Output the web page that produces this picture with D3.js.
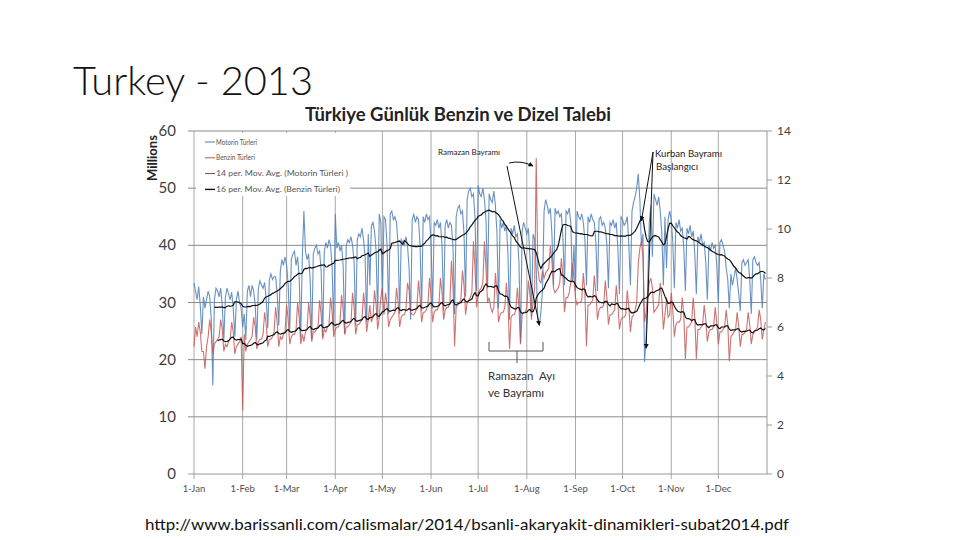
<!DOCTYPE html>
<html><head><meta charset="utf-8">
<script src="https://cdn.jsdelivr.net/npm/d3@7"></script>
<style>
body{margin:0;background:#fff;}
svg{display:block;font-family:Lato,"Open Sans","Liberation Sans",sans-serif;}
</style>
</head><body>
<svg id="c" width="960" height="540"></svg>
<script>
// ---- DATA (daily, 2013; rows = calendar weeks, first row starts Tue 1 Jan) ----
// Motorin Türleri (diesel), millions of litres, left axis
const motorinWeeks = [
  [33.4, 32.0, 30.5, 32.8, 29.5, 24.5],
  [31.0, 29.0, 30.5, 32.0, 31.0, 27.0, 15.5],
  [30.5, 32.5, 32.0, 31.0, 32.5, 29.5, 23.5],
  [31.0, 32.5, 31.5, 30.5, 31.8, 29.0, 24.0],
  [30.5, 32.0, 30.0, 29.0, 25.7, 28.0, 23.5],
  [32.0, 33.0, 31.0, 33.0, 32.0, 29.5, 23.5],
  [32.5, 33.8, 33.0, 32.5, 33.5, 30.5, 25.5],
  [34.0, 35.0, 34.0, 34.5, 34.5, 31.5, 26.0],
  [35.5, 37.5, 36.5, 38.0, 36.5, 33.0, 25.0],
  [37.5, 38.5, 39.0, 36.5, 38.0, 34.5, 24.0],
  [38.0, 46.0, 39.0, 37.5, 38.5, 34.0, 23.5],
  [38.5, 39.5, 40.0, 38.5, 39.0, 35.5, 24.0],
  [39.0, 40.5, 39.5, 41.0, 40.0, 36.0, 25.0],
  [45.5, 39.5, 40.5, 39.0, 40.0, 36.5, 24.5],
  [40.0, 41.0, 40.5, 41.5, 40.0, 37.0, 26.0],
  [41.0, 42.0, 41.5, 43.0, 41.0, 38.0, 26.5],
  [42.0, 33.0, 43.5, 44.0, 42.5, 39.0, 27.0],
  [45.5, 44.0, 30.5, 45.0, 44.5, 40.0, 28.0],
  [45.5, 46.0, 44.5, 45.0, 44.0, 40.0, 28.0],
  [41.0, 40.5, 40.0, 41.5, 40.0, 36.0, 27.0],
  [44.5, 45.5, 44.0, 45.0, 44.5, 40.0, 28.5],
  [45.0, 44.0, 45.5, 44.5, 45.0, 40.5, 29.0],
  [44.0, 43.5, 44.5, 43.0, 44.0, 40.0, 28.5],
  [43.5, 44.5, 43.0, 44.0, 43.5, 39.5, 28.0],
  [45.0, 46.5, 47.0, 45.5, 46.0, 42.0, 31.0],
  [48.0, 49.5, 50.0, 48.5, 49.0, 45.0, 32.0],
  [50.5, 49.0, 48.5, 50.0, 48.0, 44.5, 32.5],
  [49.0, 48.0, 47.5, 49.5, 47.0, 42.0, 29.0],
  [44.5, 43.0, 44.0, 42.5, 43.5, 38.5, 27.0],
  [43.0, 42.0, 43.5, 41.5, 42.0, 37.0, 23.0],
  [42.5, 44.0, 43.0, 42.0, 43.0, 38.0, 27.0],
  [42.0, 41.0, 36.0, 27.0, 26.0, 28.5, 32.0],
  [46.0, 48.0, 47.0, 45.5, 46.5, 42.0, 33.0],
  [46.5, 45.5, 46.0, 45.0, 45.5, 41.5, 33.0],
  [46.0, 45.5, 46.5, 44.0, 33.5, 40.0, 32.0],
  [46.0, 45.0, 44.5, 45.5, 44.0, 41.0, 33.0],
  [45.0, 44.0, 45.5, 44.5, 44.0, 40.5, 32.0],
  [44.5, 45.0, 43.5, 44.0, 43.0, 40.0, 32.5],
  [44.0, 43.5, 44.5, 43.0, 44.0, 39.5, 31.5],
  [45.0, 44.5, 43.5, 44.0, 45.0, 40.0, 33.0],
  [46.0, 47.5, 48.5, 50.0, 52.5, 48.0, 40.0],
  [42.0, 19.6, 24.0, 33.0, 44.0, 47.0, 38.0],
  [49.0, 48.0, 47.0, 48.5, 46.0, 42.0, 33.0],
  [45.0, 36.0, 44.5, 46.0, 44.5, 40.5, 32.5],
  [44.0, 43.0, 44.5, 42.5, 43.0, 39.5, 32.0],
  [43.0, 42.0, 43.5, 41.5, 42.5, 38.5, 31.5],
  [41.5, 40.5, 42.0, 40.0, 40.5, 37.0, 30.5],
  [40.0, 39.0, 40.5, 39.5, 40.0, 36.5, 30.0],
  [40.5, 41.0, 40.0, 39.0, 36.0, 34.0, 29.0],
  [35.0, 33.0, 34.5, 36.0, 34.0, 31.5, 28.5],
  [37.0, 37.5, 36.5, 37.0, 37.5, 34.0, 28.0],
  [37.5, 38.0, 37.0, 36.5, 37.0, 34.0, 29.0],
  [35.0, 34.0]
];
// Benzin Türleri (gasoline), millions of litres, right axis
const benzinWeeks = [
  [5.2, 6.0, 5.6, 6.2, 5.8, 5.0],
  [5.0, 4.3, 5.2, 5.6, 6.3, 5.8, 4.9],
  [5.3, 5.4, 5.5, 5.6, 6.3, 5.9, 5.0],
  [5.3, 5.2, 5.4, 5.5, 6.2, 5.8, 4.9],
  [5.2, 5.3, 5.4, 5.6, 2.6, 5.7, 5.0],
  [5.3, 5.4, 5.5, 5.6, 6.4, 6.0, 5.1],
  [5.4, 5.5, 5.5, 5.7, 6.6, 6.1, 5.2],
  [5.5, 5.5, 5.6, 5.8, 6.8, 6.2, 5.2],
  [5.6, 5.5, 5.7, 5.8, 6.9, 6.3, 5.3],
  [5.6, 5.7, 5.7, 5.9, 7.0, 6.4, 5.3],
  [5.7, 5.4, 5.8, 5.9, 7.0, 6.4, 5.4],
  [5.8, 5.8, 5.9, 6.0, 7.1, 6.5, 5.5],
  [5.9, 5.8, 6.0, 6.1, 7.2, 6.6, 5.6],
  [5.9, 6.0, 6.0, 6.2, 7.3, 6.7, 5.7],
  [6.0, 6.0, 6.1, 6.2, 7.4, 6.8, 5.7],
  [6.1, 6.1, 6.2, 6.3, 7.4, 6.8, 5.8],
  [6.3, 6.9, 6.2, 6.4, 7.5, 6.9, 5.9],
  [6.4, 7.2, 7.6, 6.5, 7.4, 6.9, 6.0],
  [6.3, 6.4, 6.5, 6.6, 7.6, 7.0, 6.0],
  [6.4, 6.5, 6.5, 6.7, 7.8, 7.5, 6.6],
  [6.5, 6.5, 6.6, 6.8, 7.9, 7.2, 6.2],
  [6.6, 6.6, 6.7, 6.9, 8.0, 7.3, 6.2],
  [6.6, 6.7, 6.7, 6.9, 8.0, 7.4, 6.3],
  [6.7, 6.8, 6.8, 7.0, 8.7, 7.6, 5.2],
  [6.8, 6.9, 7.0, 7.1, 8.3, 7.7, 6.5],
  [7.0, 7.1, 7.2, 7.4, 9.5, 8.4, 6.8],
  [7.4, 7.5, 7.6, 7.8, 9.5, 8.4, 7.0],
  [7.2, 6.8, 6.6, 6.8, 8.2, 7.4, 6.2],
  [6.5, 6.6, 6.6, 6.8, 7.8, 7.0, 5.1],
  [6.4, 6.5, 6.5, 6.7, 7.6, 6.8, 5.3],
  [6.5, 6.6, 6.6, 6.8, 7.9, 7.3, 6.4],
  [7.0, 7.6, 12.9, 8.4, 7.9, 7.8, 8.3],
  [8.0, 8.2, 8.3, 8.4, 9.3, 8.7, 7.6],
  [7.4, 7.5, 7.6, 7.8, 8.8, 8.1, 6.6],
  [7.2, 7.2, 7.4, 7.8, 8.6, 8.0, 7.2],
  [6.9, 7.0, 7.0, 7.1, 8.2, 7.4, 5.2],
  [6.9, 6.9, 7.0, 7.1, 8.1, 7.4, 6.3],
  [6.7, 6.8, 6.8, 6.9, 7.9, 7.2, 6.1],
  [6.5, 6.5, 6.6, 6.7, 7.7, 7.0, 5.9],
  [6.3, 6.4, 6.4, 6.5, 7.5, 6.8, 5.8],
  [6.4, 6.5, 6.7, 7.0, 8.6, 9.2, 9.5],
  [8.8, 6.2, 6.6, 7.2, 7.8, 8.0, 7.6],
  [6.6, 6.7, 6.8, 6.9, 7.8, 7.1, 5.9],
  [6.5, 7.2, 6.4, 6.5, 7.4, 6.7, 5.6],
  [6.1, 6.2, 6.2, 6.3, 7.2, 6.5, 4.7],
  [6.0, 6.0, 6.1, 6.2, 7.2, 6.4, 4.7],
  [5.9, 5.9, 6.0, 6.1, 6.9, 6.3, 5.4],
  [5.8, 5.9, 5.9, 6.0, 6.8, 6.2, 5.3],
  [5.8, 5.8, 5.9, 6.0, 6.7, 6.1, 4.6],
  [5.6, 5.7, 5.8, 5.9, 6.6, 6.0, 5.2],
  [5.7, 5.7, 5.8, 5.9, 6.6, 6.1, 5.3],
  [5.7, 5.8, 5.9, 6.0, 6.7, 6.3, 5.5],
  [5.9, 6.2]
];
const monthLabels = ["1-Jan","1-Feb","1-Mar","1-Apr","1-May","1-Jun","1-Jul","1-Aug","1-Sep","1-Oct","1-Nov","1-Dec"];
const leftTicks = [0, 10, 20, 30, 40, 50, 60];
const rightTicks = [0, 2, 4, 6, 8, 10, 12, 14];
const legendLabels = ["Motorin Türleri", "Benzin Türleri", "14 per. Mov. Avg. (Motorin Türleri )", "16 per. Mov. Avg. (Benzin Türleri)"];
const maPeriods = [14, 16];

// ---- BUILD ----
const motorin = motorinWeeks.flat();
const benzin = benzinWeeks.flat();
const start = new Date(Date.UTC(2013, 0, 1));
const end = new Date(Date.UTC(2014, 0, 1));
const dates = motorin.map((_, i) => d3.utcDay.offset(start, i));
const movingAvg = (vals, n) => vals.map((v, i) => i < n - 1 ? null : d3.mean(vals.slice(i - n + 1, i + 1)));
const motorinMA = movingAvg(motorin, maPeriods[0]);
const benzinMA = movingAvg(benzin, maPeriods[1]);

const svg = d3.select("#c");
const x = d3.scaleUtc().domain([start, end]).range([194, 767]);
const yL = d3.scaleLinear().domain([0, 60]).range([474, 131]);
const yR = d3.scaleLinear().domain([0, 14]).range([474, 131]);

const defs = svg.append("defs");
defs.append("marker").attr("id", "ah").attr("viewBox", "0 0 10 10")
  .attr("refX", 9).attr("refY", 5).attr("markerWidth", 5).attr("markerHeight", 5)
  .attr("orient", "auto-start-reverse")
  .append("path").attr("d", "M0,0L10,5L0,10z").attr("fill", "#111");

// slide title
svg.append("text").attr("x", 73).attr("y", 95).attr("font-size", 40).attr("font-weight", 300)
  .attr("fill", "#111").attr("textLength", 240).attr("lengthAdjust", "spacingAndGlyphs")
  .text("Turkey - 2013");

// chart title
svg.append("text").attr("x", 305).attr("y", 121).attr("font-size", 18).attr("font-weight", 700)
  .attr("fill", "#222").attr("textLength", 306).attr("lengthAdjust", "spacingAndGlyphs")
  .text("Türkiye Günlük Benzin ve Dizel Talebi");

// vertical month gridlines
const months = d3.utcMonth.range(start, end);
svg.append("g").selectAll("line").data(months).join("line")
  .attr("x1", d => x(d)).attr("x2", d => x(d)).attr("y1", 131).attr("y2", 479)
  .attr("stroke", "#a9a9a9").attr("stroke-width", 1);

// horizontal gridlines (left axis)
svg.append("g").selectAll("line").data(leftTicks).join("line")
  .attr("x1", 188).attr("x2", 767).attr("y1", d => yL(d)).attr("y2", d => yL(d))
  .attr("stroke", d => d === 0 ? "#9a9a9a" : "#8a8a8a").attr("stroke-width", 1);

// right axis line and ticks
svg.append("line").attr("x1", 767).attr("x2", 767).attr("y1", 131).attr("y2", 474).attr("stroke", "#9a9a9a");
svg.append("g").selectAll("line").data(rightTicks).join("line")
  .attr("x1", 767).attr("x2", 772).attr("y1", d => yR(d)).attr("y2", d => yR(d)).attr("stroke", "#9a9a9a");

// tick labels
svg.append("g").selectAll("text").data(leftTicks).join("text")
  .attr("x", 176).attr("y", d => yL(d) + 5).attr("text-anchor", "end")
  .attr("font-size", 15).attr("fill", "#404040").text(d => d);
svg.append("g").selectAll("text").data(rightTicks).join("text")
  .attr("x", 777).attr("y", d => yR(d) + 4).attr("text-anchor", "start")
  .attr("font-size", 12).attr("fill", "#404040").text(d => d);
svg.append("g").selectAll("text").data(months).join("text")
  .attr("x", d => x(d)).attr("y", 492).attr("text-anchor", "middle")
  .attr("font-size", 9.5).attr("fill", "#505050").text((d, i) => monthLabels[i]);

svg.append("text").attr("transform", "translate(157,158) rotate(-90)").attr("text-anchor", "middle")
  .attr("font-size", 13).attr("font-weight", 700).attr("fill", "#222").text("Millions");

// series
const lineL = d3.line().defined(d => d[1] != null).x(d => x(d[0])).y(d => yL(d[1]));
const lineR = d3.line().defined(d => d[1] != null).x(d => x(d[0])).y(d => yR(d[1]));
svg.append("path").datum(dates.map((d, i) => [d, motorin[i]])).attr("d", lineL)
  .attr("fill", "none").attr("stroke", "#4f7fba").attr("stroke-opacity", 0.85).attr("stroke-width", 1.1);
svg.append("path").datum(dates.map((d, i) => [d, benzin[i]])).attr("d", lineR)
  .attr("fill", "none").attr("stroke", "#c0504d").attr("stroke-opacity", 0.8).attr("stroke-width", 1.1);
svg.append("path").datum(dates.map((d, i) => [d, motorinMA[i]])).attr("d", lineL)
  .attr("fill", "none").attr("stroke", "#111").attr("stroke-width", 1.2);
svg.append("path").datum(dates.map((d, i) => [d, benzinMA[i]])).attr("d", lineR)
  .attr("fill", "none").attr("stroke", "#111").attr("stroke-width", 1.2);

// annotations
const ann = svg.append("g").attr("fill", "none").attr("stroke", "#111").attr("stroke-width", 1);
svg.append("text").attr("x", 438).attr("y", 155).attr("font-size", 7).attr("fill", "#222")
  .attr("textLength", 62).attr("lengthAdjust", "spacingAndGlyphs").text("Ramazan Bayramı");
ann.append("path").attr("d", "M509,163 Q521,160 533,166").attr("marker-end", "url(#ah)");
ann.append("line").attr("x1", 507).attr("y1", 166)
  .attr("x2", x(new Date(Date.UTC(2013, 7, 9)))).attr("y2", yL(26)).attr("marker-end", "url(#ah)");
svg.append("text").attr("x", 655).attr("y", 157).attr("font-size", 9.5).attr("fill", "#222")
  .attr("textLength", 67).attr("lengthAdjust", "spacingAndGlyphs").text("Kurban Bayramı");
svg.append("text").attr("x", 656).attr("y", 170).attr("font-size", 9.5).attr("fill", "#222")
  .attr("textLength", 42).attr("lengthAdjust", "spacingAndGlyphs").text("Başlangıcı");
ann.append("line").attr("x1", 653).attr("y1", 152)
  .attr("x2", x(new Date(Date.UTC(2013, 9, 13)))).attr("y2", yL(44.3)).attr("marker-end", "url(#ah)");
ann.append("line").attr("x1", 653).attr("y1", 152)
  .attr("x2", x(new Date(Date.UTC(2013, 9, 16)))).attr("y2", yL(22)).attr("marker-end", "url(#ah)");
// bracket
ann.append("path").attr("stroke", "#555")
  .attr("d", "M489,342 L489,351 L543,351 L543,342 M517,351 L517,363");
svg.append("text").attr("x", 488).attr("y", 380).attr("font-size", 10.5).attr("fill", "#333")
  .attr("textLength", 67).attr("lengthAdjust", "spacingAndGlyphs").attr("xml:space", "preserve").text("Ramazan  Ayı");
svg.append("text").attr("x", 488).attr("y", 397).attr("font-size", 10.5).attr("fill", "#333")
  .attr("textLength", 56).attr("lengthAdjust", "spacingAndGlyphs").text("ve Bayramı");

// legend
const lg = svg.append("g");
lg.append("rect").attr("x", 196).attr("y", 133).attr("width", 154).attr("height", 63).attr("fill", "#fff");
const legendColors = ["#4f7fba", "#c0504d", "#555", "#111"];
const legendWidths = [41, 39, 132, 124];
legendLabels.forEach((t, i) => {
  const yy = 142 + i * 15.8;
  lg.append("line").attr("x1", 205).attr("x2", 215).attr("y1", yy).attr("y2", yy)
    .attr("stroke", legendColors[i]).attr("stroke-width", i === 3 ? 1.4 : 1);
  lg.append("text").attr("x", 216).attr("y", yy + 2.6).attr("font-size", 7.5).attr("fill", "#555")
    .attr("textLength", legendWidths[i]).attr("lengthAdjust", "spacingAndGlyphs").text(t);
});

// source URL
svg.append("text").attr("x", 145).attr("y", 530).attr("font-size", 15).attr("fill", "#111")
  .attr("textLength", 644).attr("lengthAdjust", "spacingAndGlyphs")
  .text("http://www.barissanli.com/calismalar/2014/bsanli-akaryakit-dinamikleri-subat2014.pdf");
</script>
</body></html>
